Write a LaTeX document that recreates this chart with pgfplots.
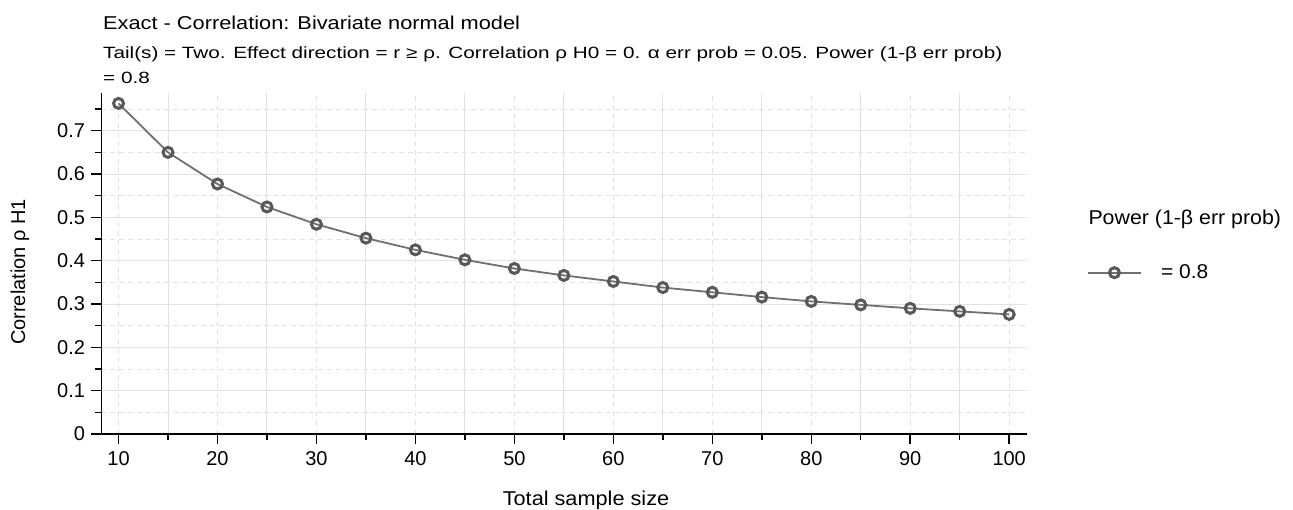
\documentclass[border=0pt]{standalone}
\usepackage{pgfplots}
\pgfplotsset{compat=1.18}
\usepackage{graphicx}
\usepackage{fontspec}
\setmainfont{Liberation Sans}
\definecolor{gridc}{RGB}{226,226,226}
\definecolor{linec}{RGB}{112,112,112}
\definecolor{markc}{RGB}{88,88,88}
\newcommand{\lblfont}{\fontsize{20}{24}\selectfont}

\begin{document}
\begin{tikzpicture}
\useasboundingbox (-101.5pt,-76pt) rectangle (1191.5pt,434pt);
\begin{axis}[
  name=ax,
  scale only axis, width=925.5pt, height=341pt,
  xmin=8.28, xmax=101.8, ymin=0, ymax=0.787,
  axis x line*=bottom, axis y line*=left,
  axis line style={black, line width=1.5pt},
  tick align=outside, major tick length=10pt, minor tick length=6pt,
  every tick/.style={black, line width=1.5pt},
  xtick={10,20,30,40,50,60,70,80,90,100},
  minor xtick={15,25,35,45,55,65,75,85,95},
  ytick={0,0.1,0.2,0.3,0.4,0.5,0.6,0.7},
  minor ytick={0.05,0.15,0.25,0.35,0.45,0.55,0.65,0.75},
  xmajorgrids, xminorgrids, ymajorgrids, yminorgrids,
  major x grid style={gridc, line width=1pt, dash pattern=on 5pt off 4pt},
  minor x grid style={gridc, line width=1pt},
  major y grid style={gridc, line width=1pt},
  minor y grid style={gridc, line width=1pt, dash pattern=on 5pt off 4pt},
  ticklabel style={font=\lblfont},
  xticklabel style={yshift=-4pt},
  yticklabel style={xshift=-3pt},
  /pgf/number format/assume math mode=true,
  legend style={at={(1.0645,0.473)}, anchor=west, draw=none, fill=none,
    font=\lblfont, inner sep=0pt},
  legend cell align=left,
  legend image code/.code={\draw[mark repeat=2, mark phase=2, #1]
    plot coordinates {(0pt,0pt) (26.65pt,0pt) (53.3pt,0pt)};},
]
\addplot[color=linec, line width=1.8pt, mark=o, mark size=5pt,
  mark options={markc, line width=3pt, solid}] coordinates {
  (10,0.763) (15,0.650) (20,0.577) (25,0.524) (30,0.484) (35,0.452)
  (40,0.425) (45,0.402) (50,0.382) (55,0.366) (60,0.352) (65,0.338)
  (70,0.327) (75,0.316) (80,0.306) (85,0.298) (90,0.290) (95,0.283)
  (100,0.276)};
\addlegendentry{\hspace{17pt}\scalebox{1.05}[1]{= 0.8}}
\end{axis}
\node[anchor=base west, inner sep=0pt, font=\fontsize{18.6}{22}\selectfont]
  at (1.5pt,404pt) {\scalebox{1.17}[1]{Exact - Correlation: Bivariate normal model}};
\node[anchor=base west, inner sep=0pt, font=\fontsize{16.3}{19}\selectfont]
  at (1.5pt,375.5pt) {\scalebox{1.27}[1]{Tail(s) = Two. Effect direction = r ≥ ρ. Correlation ρ H0 = 0. α err prob = 0.05. Power (1-β err prob)}};
\node[anchor=base west, inner sep=0pt, font=\fontsize{16.3}{19}\selectfont]
  at (1.5pt,350.7pt) {\scalebox{1.27}[1]{= 0.8}};
\node[rotate=90, inner sep=0pt, font=\lblfont] at (-81.5pt,162pt) {Correlation ρ H1};
\node[anchor=base, inner sep=0pt, font=\lblfont] at (484.5pt,-72pt) {\scalebox{1.085}[1]{Total sample size}};
\node[anchor=base west, inner sep=0pt, font=\lblfont] at (986.8pt,209.7pt) {\scalebox{1.067}[1]{Power (1-β err prob)}};
\end{tikzpicture}
\end{document}
